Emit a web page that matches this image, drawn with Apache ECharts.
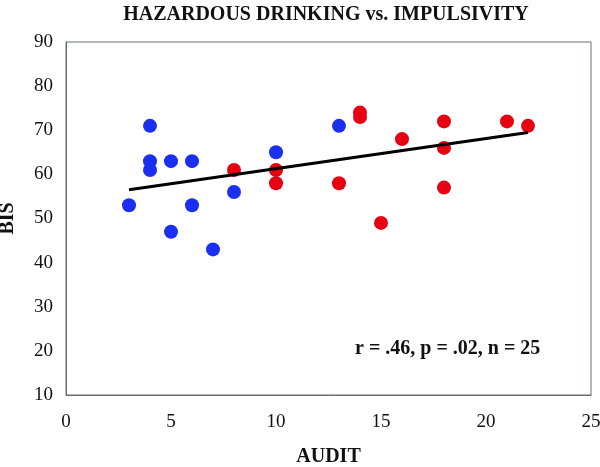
<!DOCTYPE html>
<html>
<head>
<meta charset="utf-8">
<script src="https://cdn.jsdelivr.net/npm/echarts@6/dist/echarts.min.js"></script>
<style>html,body{margin:0;padding:0;background:#fff}#c{width:600px;height:467px}</style>
</head>
<body>
<div id="c"></div>
<script>
// Low AUDIT group (blue)
const blueX = [3, 4, 4, 4, 5, 5, 6, 6, 7, 8, 10, 13];
const blueY = [53, 71, 63, 61, 63, 47, 63, 53, 43, 56, 65, 71];
// High AUDIT group (red)
const redX = [8, 10, 10, 13, 14, 14, 15, 16, 18, 18, 18, 21, 22];
const redY = [61, 61, 58, 58, 74, 73, 49, 68, 72, 66, 57, 72, 71];
// Trend line endpoints
const trendX = [3, 22];
const trendY = [56.5, 69.5];
const xTicks = [0, 5, 10, 15, 20, 25];
const yTicks = [10, 20, 30, 40, 50, 60, 70, 80, 90];

const zip = (a, b) => a.map((v, i) => [v, b[i]]);
const serif = '"Liberation Serif", "DejaVu Serif", serif';
const chart = echarts.init(document.getElementById('c'), null, {renderer: 'canvas'});
chart.setOption({
  animation: false,
  title: {
    text: 'HAZARDOUS DRINKING vs. IMPULSIVITY',
    left: 321, top: 0, textAlign: 'center',
    textStyle: {fontFamily: serif, fontWeight: 'bold', fontSize: 20, color: '#111'}
  },
  grid: {left: 66, right: 9, top: 42, bottom: 72, outerBoundsMode: 'none', containLabel: false,
         show: true, borderColor: '#66716f', borderWidth: 1, backgroundColor: 'transparent'},
  xAxis: {
    type: 'value', min: xTicks[0], max: xTicks[xTicks.length - 1], interval: 5,
    name: 'AUDIT', nameLocation: 'middle', nameGap: 52,
    nameTextStyle: {fontFamily: serif, fontWeight: 'bold', fontSize: 20, color: '#111'},
    axisLine: {show: true, lineStyle: {color: '#66716f'}},
    axisTick: {show: false}, splitLine: {show: false},
    axisLabel: {margin: 18, fontFamily: serif, fontSize: 19, color: '#111'}
  },
  yAxis: {
    type: 'value', min: yTicks[0], max: yTicks[yTicks.length - 1], interval: 10,
    name: 'BIS', nameLocation: 'middle', nameGap: 48,
    nameTextStyle: {fontFamily: serif, fontWeight: 'bold', fontSize: 20, color: '#111'},
    axisLine: {show: true, lineStyle: {color: '#66716f'}},
    axisTick: {show: false}, splitLine: {show: false},
    axisLabel: {margin: 13, fontFamily: serif, fontSize: 19, color: '#111'}
  },
  graphic: [{
    type: 'text', left: 355, top: 339,
    style: {text: 'r = .46, p = .02, n = 25', font: 'bold 20px ' + serif, fill: '#111'}
  }],
  series: [
    {type: 'scatter', data: zip(blueX, blueY), symbolSize: 14, itemStyle: {color: '#1b2ff0', opacity: 1}, z: 3},
    {type: 'scatter', data: zip(redX, redY), symbolSize: 14, itemStyle: {color: '#e60012', opacity: 1}, z: 3},
    {type: 'line', data: zip(trendX, trendY), symbol: 'none', lineStyle: {color: '#000', width: 3}, z: 4}
  ]
});
</script>
</body>
</html>
